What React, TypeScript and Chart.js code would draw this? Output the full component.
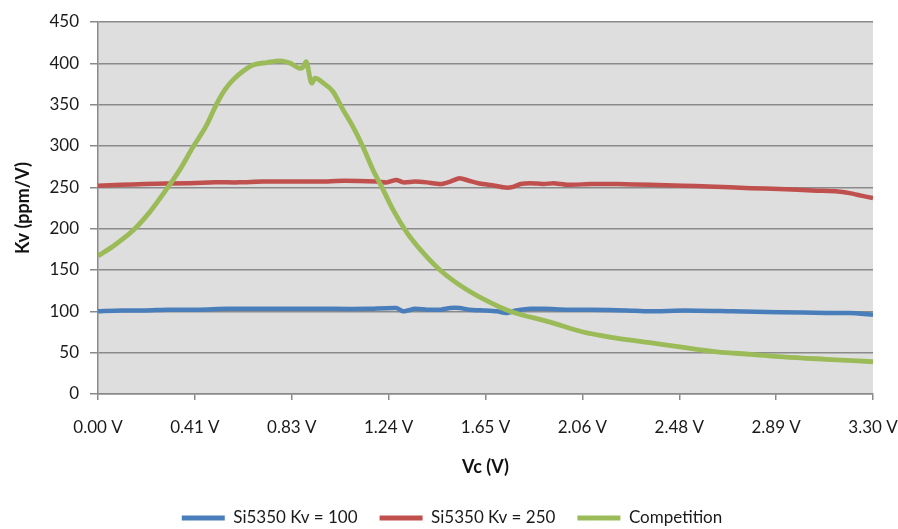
import React, { useEffect, useRef } from 'react';
import { Chart, registerables } from 'chart.js';

Chart.register(...registerables);

// ---- data ----
const xTickValues = [0, 0.4125, 0.825, 1.2375, 1.65, 2.0625, 2.475, 2.8875, 3.3];
const xTickLabels = ['0.00 V', '0.41 V', '0.83 V', '1.24 V', '1.65 V', '2.06 V', '2.48 V', '2.89 V', '3.30 V'];

const seriesNames = ['Si5350 Kv = 100', 'Si5350 Kv = 250', 'Competition'];

const blueVc = [0.0, 0.1, 0.2, 0.3, 0.43, 0.55, 0.7, 0.85, 1.0, 1.15, 1.27, 1.3, 1.35, 1.4, 1.46, 1.5, 1.54, 1.58, 1.65, 1.7, 1.74, 1.78, 1.84, 1.9, 2.0, 2.1, 2.25, 2.35, 2.5, 2.7, 2.9, 3.1, 3.2, 3.3];
const blueKv = [100, 101, 101, 102, 102, 103, 103, 103, 103, 103, 104, 100, 103, 102, 102, 104, 104, 102, 101, 100, 98, 101, 103, 103, 102, 102, 101, 100, 101, 100, 99, 98, 98, 96];

const redVc = [0.0, 0.1, 0.2, 0.39, 0.5, 0.6, 0.7, 0.82, 0.95, 1.05, 1.19, 1.23, 1.27, 1.3, 1.35, 1.4, 1.46, 1.5, 1.54, 1.58, 1.62, 1.67, 1.725, 1.76, 1.8, 1.84, 1.9, 1.94, 2.0, 2.1, 2.21, 2.35, 2.49, 2.6, 2.78, 2.9, 3.06, 3.15, 3.2, 3.25, 3.3];
const redKv = [252, 253, 254, 255, 256, 256, 257, 257, 257, 258, 257, 256, 259, 256, 257, 256, 254, 257, 261, 258, 255, 253, 250, 250, 254, 255, 254, 255, 253, 254, 254, 253, 252, 251, 249, 248, 246, 245, 243, 240, 237];

const greenVc = [0.0, 0.07, 0.15, 0.22, 0.29, 0.35, 0.405, 0.46, 0.507, 0.54, 0.575, 0.62, 0.66, 0.72, 0.775, 0.82, 0.86, 0.875, 0.886, 0.91, 0.924, 0.96, 1.0, 1.043, 1.086, 1.128, 1.171, 1.209, 1.256, 1.316, 1.384, 1.456, 1.571, 1.712, 1.767, 1.925, 2.065, 2.2, 2.35, 2.5, 2.636, 2.78, 2.917, 3.1, 3.3];
const greenKv = [167, 180, 198, 220, 247, 272, 299, 324, 352, 368, 380, 391, 398, 401, 403, 400, 394, 396, 402, 376, 382, 376, 366, 344, 323, 299, 271, 250, 223, 195, 171, 150, 126, 105, 99, 87, 75, 68, 62, 56, 51, 48, 45, 42, 39];

const seriesColors = ['#4a7ebb', '#c0504d', '#9bbb59'];

const FONT = 'Lato, "Noto Sans", sans-serif';
const GRID = '#8a8a8a';

const toPoints = (xs: number[], ys: number[]) => xs.map((x, i) => ({ x, y: ys[i] }));

const plotBg = {
  id: 'plotBg',
  beforeDraw(chart: any) {
    const { ctx, chartArea } = chart;
    if (!chartArea) return;
    ctx.save();
    ctx.fillStyle = '#dedede';
    ctx.fillRect(chartArea.left, chartArea.top, chartArea.right - chartArea.left, chartArea.bottom - chartArea.top);
    ctx.restore();
  },
};

export default function App() {
  const ref = useRef<HTMLCanvasElement | null>(null);

  useEffect(() => {
    if (!ref.current) return;
    const chart = new Chart(ref.current, {
      type: 'line',
      data: {
        datasets: [
          { label: seriesNames[0], data: toPoints(blueVc, blueKv), borderColor: seriesColors[0], backgroundColor: seriesColors[0], borderWidth: 4.5, pointRadius: 0, tension: 0.2, order: 2 },
          { label: seriesNames[1], data: toPoints(redVc, redKv), borderColor: seriesColors[1], backgroundColor: seriesColors[1], borderWidth: 4.5, pointRadius: 0, tension: 0.2, order: 1 },
          { label: seriesNames[2], data: toPoints(greenVc, greenKv), borderColor: seriesColors[2], backgroundColor: seriesColors[2], borderWidth: 4.8, pointRadius: 0, cubicInterpolationMode: 'monotone', order: 0 },
        ],
      },
      options: {
        responsive: false,
        animation: false,
        layout: { padding: { top: 22, right: 25, bottom: 0, left: 31 } },
        plugins: {
          tooltip: { enabled: false },
          legend: {
            position: 'bottom',
            maxHeight: 41.5,
            labels: {
              boxWidth: 43,
              boxHeight: 5,
              padding: 22,
              color: '#1a1a1a',
              font: { family: FONT, size: 17 },
              sort: (a: any, b: any) => a.datasetIndex - b.datasetIndex,
              generateLabels: (chart: any) =>
                chart.data.datasets.map((ds: any, i: number) => ({
                  text: ds.label,
                  fillStyle: ds.borderColor,
                  strokeStyle: ds.borderColor,
                  lineWidth: 0,
                  datasetIndex: i,
                  hidden: false,
                  fontColor: '#1a1a1a',
                })),
            },
          },
        },
        scales: {
          x: {
            type: 'linear',
            min: 0,
            max: 3.3,
            afterBuildTicks: (s: any) => {
              s.ticks = xTickValues.map((v) => ({ value: v }));
            },
            afterFit: (s: any) => {
              s.height = 93.5;
              s.paddingRight = 0;
              s.paddingLeft = 0;
            },
            ticks: {
              autoSkip: false,
              maxRotation: 0,
              padding: 17,
              color: '#1a1a1a',
              font: { family: FONT, size: 17 },
              callback: (_v: any, i: number) => xTickLabels[i],
            },
            grid: { drawOnChartArea: false, drawTicks: true, tickLength: 6, color: GRID, lineWidth: 1.5 },
            border: { display: true, color: GRID, width: 1.5 },
            title: { display: true, text: 'Vc (V)', color: '#111', font: { family: FONT, size: 18, weight: 'bold' }, padding: { top: 0, bottom: 10 } },
          },
          y: {
            min: 0,
            max: 450,
            afterFit: (s: any) => {
              s.width = 67;
            },
            ticks: { stepSize: 50, padding: 11, color: '#1a1a1a', font: { family: FONT, size: 17 } },
            grid: { color: GRID, lineWidth: 1.5, tickLength: 8, drawTicks: true },
            border: { display: true, color: GRID, width: 1.5 },
            title: { display: true, text: 'Kv (ppm/V)', color: '#111', font: { family: FONT, size: 18, weight: 'bold' }, padding: { top: -19, bottom: 0 } },
          },
        },
      },
      plugins: [plotBg],
    } as any);
    return () => chart.destroy();
  }, []);

  return (
    <div style={{ position: 'fixed', left: 0, top: 0, width: 898, height: 529, background: '#fff' }}>
      <canvas ref={ref} width={898} height={529} style={{ display: 'block', width: 898, height: 529 }} />
    </div>
  );
}
